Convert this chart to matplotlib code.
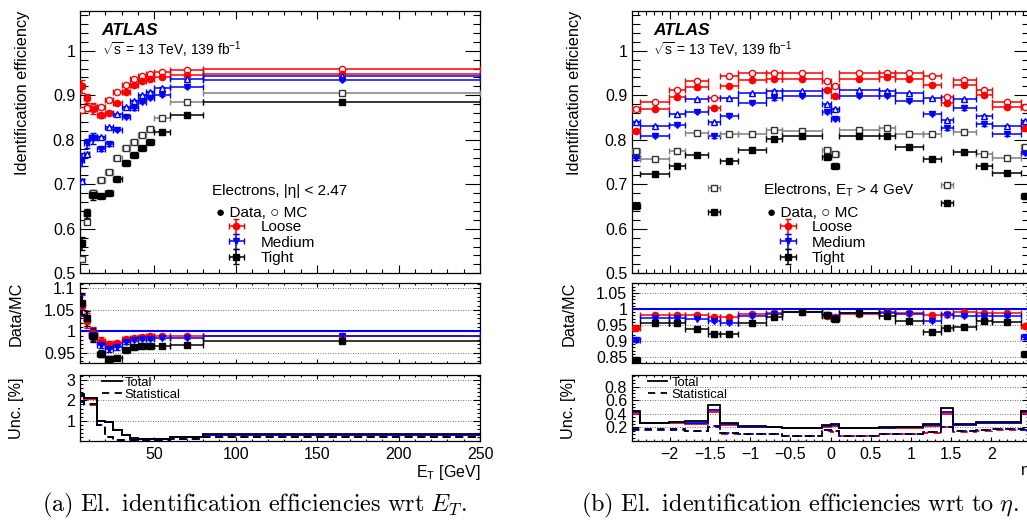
import numpy as np
import matplotlib.pyplot as plt
from matplotlib.ticker import MultipleLocator, FixedLocator, FuncFormatter
from matplotlib.lines import Line2D

plt.rcParams['font.family'] = ['Liberation Sans', 'DejaVu Sans']
plt.rcParams['mathtext.fontset'] = 'custom'
plt.rcParams['mathtext.rm'] = 'Liberation Sans'
plt.rcParams['mathtext.it'] = 'Liberation Sans:italic'
plt.rcParams['mathtext.bf'] = 'Liberation Sans:bold'

# ---- efficiency vs E_T ----
et_edges = [4.5, 7, 10, 15, 20, 25, 30, 35, 40, 45, 50, 60, 80, 250]
et_loose_data = [0.920, 0.893, 0.870, 0.855, 0.860, 0.882, 0.908, 0.922, 0.931, 0.937, 0.941, 0.946, 0.948]
et_loose_mc = [0.868, 0.871, 0.874, 0.874, 0.890, 0.907, 0.924, 0.936, 0.943, 0.948, 0.952, 0.957, 0.958]
et_medium_data = [0.755, 0.792, 0.803, 0.779, 0.790, 0.822, 0.852, 0.871, 0.885, 0.893, 0.900, 0.918, 0.934]
et_medium_mc = [0.707, 0.767, 0.807, 0.806, 0.828, 0.857, 0.873, 0.888, 0.901, 0.908, 0.917, 0.936, 0.944]
et_tight_data = [0.567, 0.635, 0.676, 0.674, 0.680, 0.712, 0.747, 0.766, 0.781, 0.794, 0.817, 0.856, 0.884]
et_tight_mc = [0.532, 0.615, 0.680, 0.710, 0.727, 0.760, 0.781, 0.796, 0.811, 0.824, 0.848, 0.885, 0.904]
et_eff_err = [0.015, 0.010, 0.012, 0.005, 0.004, 0.003, 0.003, 0.003, 0.002, 0.002, 0.002, 0.002, 0.002]

et_loose_ratio = [1.060, 1.025, 0.995, 0.978, 0.970, 0.972, 0.982, 0.985, 0.987, 0.988, 0.988, 0.989, 0.990]
et_medium_ratio = [1.062, 1.030, 0.992, 0.968, 0.958, 0.962, 0.975, 0.980, 0.982, 0.983, 0.984, 0.985, 0.988]
et_tight_ratio = [1.065, 1.030, 0.990, 0.947, 0.935, 0.938, 0.957, 0.962, 0.965, 0.965, 0.965, 0.968, 0.978]
et_ratio_err = [0.025, 0.018, 0.015, 0.008, 0.006, 0.005, 0.004, 0.003, 0.003, 0.003, 0.003, 0.003, 0.003]

et_loose_tot = [2.25, 2.08, 2.08, 0.98, 0.92, 0.52, 0.28, 0.12, 0.08, 0.08, 0.12, 0.20, 0.30]
et_loose_stat = [1.90, 1.78, 1.78, 0.78, 0.18, 0.06, 0.04, 0.03, 0.03, 0.03, 0.05, 0.10, 0.18]
et_medium_tot = [2.27, 2.10, 2.10, 0.99, 0.93, 0.53, 0.29, 0.12, 0.08, 0.08, 0.12, 0.20, 0.31]
et_medium_stat = [1.92, 1.80, 1.80, 0.79, 0.19, 0.06, 0.04, 0.03, 0.03, 0.03, 0.05, 0.10, 0.19]
et_tight_tot = [2.30, 2.10, 2.10, 1.00, 0.95, 0.55, 0.30, 0.13, 0.08, 0.08, 0.12, 0.21, 0.32]
et_tight_stat = [1.95, 1.82, 1.82, 0.80, 0.20, 0.07, 0.04, 0.03, 0.03, 0.03, 0.05, 0.11, 0.20]

# ---- efficiency vs eta ----
eta_edges = [-2.47, -2.37, -2.01, -1.81, -1.52, -1.37, -1.15, -0.8, -0.6, -0.1, 0.0,
             0.1, 0.6, 0.8, 1.15, 1.37, 1.52, 1.81, 2.01, 2.37, 2.47]
eta_loose_data = [0.820, 0.869, 0.895, 0.918, 0.871, 0.921, 0.934, 0.937, 0.936, 0.912,
                  0.898, 0.937, 0.940, 0.937, 0.924, 0.883, 0.924, 0.900, 0.874, 0.826]
eta_loose_mc = [0.870, 0.884, 0.912, 0.933, 0.893, 0.943, 0.949, 0.951, 0.949, 0.932,
                0.921, 0.951, 0.951, 0.951, 0.943, 0.897, 0.934, 0.912, 0.884, 0.873]
eta_medium_data = [0.758, 0.809, 0.833, 0.863, 0.808, 0.854, 0.883, 0.893, 0.898, 0.863,
                   0.847, 0.899, 0.898, 0.888, 0.859, 0.826, 0.871, 0.835, 0.812, 0.771]
eta_medium_mc = [0.841, 0.832, 0.857, 0.891, 0.839, 0.893, 0.904, 0.910, 0.910, 0.880,
                 0.870, 0.912, 0.910, 0.904, 0.893, 0.844, 0.891, 0.854, 0.832, 0.843]
eta_tight_data = [0.652, 0.724, 0.741, 0.765, 0.638, 0.752, 0.777, 0.802, 0.809, 0.762,
                  0.742, 0.809, 0.808, 0.783, 0.757, 0.658, 0.772, 0.741, 0.726, 0.673]
eta_tight_mc = [0.775, 0.756, 0.775, 0.816, 0.692, 0.814, 0.814, 0.823, 0.820, 0.778,
                0.768, 0.823, 0.826, 0.813, 0.813, 0.698, 0.817, 0.769, 0.758, 0.784]
eta_eff_err = [0.004, 0.003, 0.003, 0.003, 0.004, 0.003, 0.003, 0.003, 0.002, 0.003,
               0.003, 0.002, 0.003, 0.003, 0.003, 0.004, 0.003, 0.003, 0.003, 0.004]

eta_loose_ratio = [0.940, 0.982, 0.982, 0.982, 0.974, 0.976, 0.984, 0.987, 0.989, 0.979,
                   0.974, 0.984, 0.990, 0.987, 0.980, 0.985, 0.990, 0.988, 0.988, 0.947]
eta_medium_ratio = [0.902, 0.972, 0.972, 0.970, 0.963, 0.956, 0.979, 0.984, 0.989, 0.982,
                    0.972, 0.986, 0.987, 0.984, 0.963, 0.980, 0.979, 0.979, 0.979, 0.911]
eta_tight_ratio = [0.839, 0.956, 0.955, 0.937, 0.921, 0.923, 0.955, 0.974, 0.989, 0.981,
                   0.968, 0.986, 0.979, 0.963, 0.929, 0.940, 0.945, 0.961, 0.959, 0.858]
eta_ratio_err = [0.004, 0.003, 0.003, 0.003, 0.004, 0.003, 0.003, 0.003, 0.003, 0.003,
                 0.003, 0.003, 0.003, 0.003, 0.003, 0.004, 0.003, 0.003, 0.003, 0.004]

eta_loose_tot = [0.40, 0.26, 0.27, 0.25, 0.42, 0.24, 0.21, 0.20, 0.19, 0.21,
                 0.22, 0.19, 0.19, 0.19, 0.22, 0.40, 0.23, 0.27, 0.27, 0.40]
eta_loose_stat = [0.16, 0.16, 0.16, 0.14, 0.21, 0.11, 0.10, 0.10, 0.08, 0.15,
                  0.13, 0.08, 0.10, 0.10, 0.12, 0.20, 0.13, 0.15, 0.16, 0.16]
eta_medium_tot = [0.42, 0.26, 0.28, 0.27, 0.45, 0.25, 0.21, 0.21, 0.19, 0.22,
                  0.23, 0.19, 0.19, 0.20, 0.23, 0.43, 0.24, 0.27, 0.27, 0.42]
eta_medium_stat = [0.16, 0.16, 0.16, 0.14, 0.21, 0.12, 0.10, 0.11, 0.08, 0.16,
                   0.14, 0.08, 0.10, 0.10, 0.13, 0.21, 0.14, 0.16, 0.17, 0.16]
eta_tight_tot = [0.44, 0.27, 0.28, 0.29, 0.53, 0.26, 0.22, 0.21, 0.19, 0.24,
                 0.25, 0.19, 0.20, 0.20, 0.25, 0.48, 0.25, 0.28, 0.28, 0.44]
eta_tight_stat = [0.17, 0.17, 0.17, 0.15, 0.22, 0.12, 0.10, 0.11, 0.08, 0.16,
                  0.14, 0.08, 0.10, 0.10, 0.13, 0.21, 0.14, 0.16, 0.17, 0.17]

RED = '#ff0000'
BLUE = '#0000ff'
BLACK = '#000000'
GREY = '#808080'


def fmt(v, pos):
    return ('%g' % round(v, 4)).replace('-', '\u2212')


def style(ax, ymaj, ymin, ylen, xlen, xmaj, xmin, grid=False):
    ax.tick_params(which='both', direction='in', top=True, right=True,
                   labelsize=11.5, pad=3.5, width=0.8)
    ax.tick_params(axis='y', which='major', length=ylen)
    ax.tick_params(axis='y', which='minor', length=ylen / 2)
    ax.tick_params(axis='x', which='major', length=xlen)
    ax.tick_params(axis='x', which='minor', length=xlen / 2)
    if isinstance(ymaj, list):
        ax.yaxis.set_major_locator(FixedLocator(ymaj))
    else:
        ax.yaxis.set_major_locator(MultipleLocator(ymaj))
    ax.yaxis.set_minor_locator(MultipleLocator(ymin))
    ax.xaxis.set_major_locator(MultipleLocator(xmaj))
    ax.xaxis.set_minor_locator(MultipleLocator(xmin))
    ax.yaxis.set_major_formatter(FuncFormatter(fmt))
    ax.xaxis.set_major_formatter(FuncFormatter(fmt))
    for s in ax.spines.values():
        s.set_linewidth(0.9)
    if grid:
        ax.yaxis.grid(True, which='major', linestyle=(0, (1, 2)), color='#444444', lw=0.6)
        ax.set_axisbelow(True)


def points(ax, x, xe, y, ye, marker, col, filled, ecol=None, ms=4.5):
    return ax.errorbar(x, y, xerr=xe, yerr=ye, fmt=marker, color=ecol or col,
                       mfc=col if filled else 'white', mec=col, mew=1.0, ms=ms,
                       lw=1.1, capsize=2.2, capthick=1.1, zorder=3)


def panel(x0, width, edges, wp_data, wp_mc, eff_err, wp_ratio, ratio_err, wp_unc,
          xlim, xmaj, xmin, ratio_lim, ratio_ticks, unc_lim, unc_ticks, unc_minor,
          title_text, xlabel, legend_x, unc_leg_x, hl, htp):
    edges = np.array(edges)
    x = (edges[1:] + edges[:-1]) / 2
    xe = (edges[1:] - edges[:-1]) / 2

    ax = fig.add_axes([x0, 0.4814, width, 0.4983])
    axr = fig.add_axes([x0, 0.3106, width, 0.1518])
    axu = fig.add_axes([x0, 0.1632, width, 0.1252])

    styles = [('o', RED, RED, 4.5), ('v', BLUE, BLUE, 5.0), ('s', BLACK, GREY, 4.5)]
    mc_markers = ['o', '^', 's']
    handles = []
    for (mk, col, mc_ecol, ms), mmk, d, m in zip(styles, mc_markers, wp_data, wp_mc):
        points(ax, x, xe, m, np.array(eff_err) / 3, mmk, col if col != BLACK else '#333333',
               False, ecol=mc_ecol, ms=ms)
        h = points(ax, x, xe, d, eff_err, mk, col, True, ms=ms)
        handles.append(h)
    ax.set_xlim(*xlim)
    ax.set_ylim(0.5, 1.09)
    style(ax, 0.1, 0.02, 10.8, 5.8, xmaj, xmin)
    ax.tick_params(labelbottom=False)
    ax.set_ylabel('Identification efficiency', fontsize=11.7, loc='top')
    ax.yaxis.set_label_coords(-0.125, 1.0)

    ax.text(0.054, 0.907, 'ATLAS', transform=ax.transAxes, fontsize=12.5,
            fontweight='bold', fontstyle='italic', va='baseline')
    ax.text(0.054, 0.831, r'$\sqrt{\mathrm{s}}$ = 13 TeV, 139 fb$^{\mathrm{-1}}$',
            transform=ax.transAxes, fontsize=10, va='baseline')
    ax.text(0.331, 0.298, title_text, transform=ax.transAxes, fontsize=11, va='baseline')
    ax.text(0.34, 0.213, '\u25cf Data, \u25cb MC', transform=ax.transAxes, fontsize=11,
            va='baseline')
    ax.legend(handles, ['Loose', 'Medium', 'Tight'], loc='center left',
              bbox_to_anchor=(legend_x, 0.1165), frameon=False, fontsize=11,
              borderpad=0, borderaxespad=0, handlelength=1.8, handletextpad=0.68,
              labelspacing=0.08)

    # ratio panel
    axr.axhline(1.0, color=BLUE, lw=1.5, zorder=2)
    for (mk, col, _, ms), r in zip(styles, wp_ratio):
        points(axr, x, xe, r, ratio_err, mk, col, True, ms=ms)
    axr.set_xlim(*xlim)
    axr.set_ylim(*ratio_lim)
    style(axr, ratio_ticks, 0.01, 5.0, 3.2, xmaj, xmin, grid=True)
    axr.tick_params(labelbottom=False)
    axr.set_ylabel('Data/MC', fontsize=11.7)
    axr.yaxis.set_label_coords(-0.14, 0.62)

    # uncertainty panel
    for col, (tot, stat) in zip([RED, BLUE, BLACK], wp_unc):
        axu.stairs(tot, edges, color=col, lw=1.3, baseline=None)
        axu.stairs(stat, edges, color=col, lw=1.3, linestyle=(0, (4, 3)), baseline=None)
    axu.set_xlim(*xlim)
    axu.set_ylim(*unc_lim)
    style(axu, unc_ticks, unc_minor, 5.0, 3.2, xmaj, xmin, grid=True)
    axu.tick_params(axis='x', pad=4)
    axu.set_ylabel('Unc. [%]', fontsize=11.7)
    axu.yaxis.set_label_coords(-0.14, 0.5)
    axu.set_xlabel(xlabel, fontsize=11.5, loc='right')
    axu.xaxis.set_label_coords(1.0, -0.34)
    leg_h = [Line2D([], [], color='k', lw=1.3), Line2D([], [], color='k', lw=1.3, linestyle=(0, (4, 3)))]
    axu.legend(leg_h, ['Total', 'Statistical'], loc='center left',
               bbox_to_anchor=(unc_leg_x, 0.79), frameon=False, fontsize=9.4,
               borderpad=0, borderaxespad=0, handlelength=hl, handletextpad=htp,
               labelspacing=0.0)


fig = plt.figure(figsize=(10.27, 5.27), dpi=100)

panel(0.0779, 0.3895, et_edges,
      [et_loose_data, et_medium_data, et_tight_data],
      [et_loose_mc, et_medium_mc, et_tight_mc], et_eff_err,
      [et_loose_ratio, et_medium_ratio, et_tight_ratio], et_ratio_err,
      [(et_loose_tot, et_loose_stat), (et_medium_tot, et_medium_stat),
       (et_tight_tot, et_tight_stat)],
      (4.5, 250), 50, 10, (0.925, 1.112), 0.05, (0, 3.25), [1, 2, 3], 0.2,
      'Electrons, |\u03b7| < 2.47', r'E$_{\mathrm{T}}$ [GeV]', 0.356, 0.054, 1.54, 0.2)

panel(0.6154, 0.3866, eta_edges,
      [eta_loose_data, eta_medium_data, eta_tight_data],
      [eta_loose_mc, eta_medium_mc, eta_tight_mc], eta_eff_err,
      [eta_loose_ratio, eta_medium_ratio, eta_tight_ratio], eta_ratio_err,
      [(eta_loose_tot, eta_loose_stat), (eta_medium_tot, eta_medium_stat),
       (eta_tight_tot, eta_tight_stat)],
      (-2.47, 2.47), 0.5, 0.1, (0.83, 1.08), 0.05, (0, 0.97), [0.2, 0.4, 0.6, 0.8], 0.05,
      r'Electrons, E$_{\mathrm{T}}$ > 4 GeV', '\u03b7', 0.358, 0.041, 1.42, 0.38)

fig.text(0.248, 0.040, r'$\mathrm{(a)\ El.\ identification\ efficiencies\ wrt\ }E_T.$',
         math_fontfamily='cm', fontsize=17.5, ha='center', va='center')
fig.text(0.779, 0.040, r'$\mathrm{(b)\ El.\ identification\ efficiencies\ wrt\ to\ }\eta.$',
         math_fontfamily='cm', fontsize=17.5, ha='center', va='center')

fig.savefig('out.png', dpi=100)
